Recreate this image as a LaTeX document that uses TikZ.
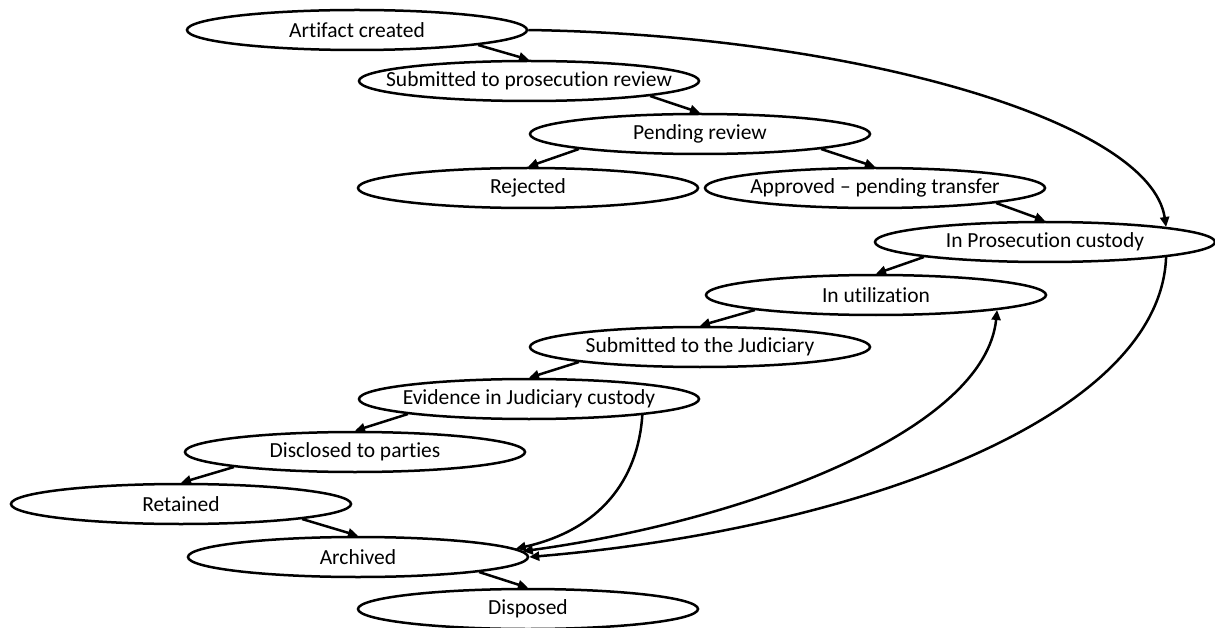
\documentclass[tikz,border=0pt]{standalone}
\usepackage{fontspec}
\setmainfont[Ligatures=CommonOff]{Carlito}
\usetikzlibrary{shapes.geometric,arrows.meta}
\begin{document}
\begin{tikzpicture}[x=1pt,y=-1pt,
  state/.style={ellipse, draw, line width=2.5pt, minimum width=340pt,
    minimum height=40pt, inner sep=0pt, font=\fontsize{21.5}{25}\selectfont,
    execute at begin node={\hbox to 0pt\bgroup\hss},
    execute at end node={\hss\egroup}},
  flow/.style={line width=2.5pt, -{Triangle[length=10pt,width=9pt]}},
  flowboth/.style={line width=2.5pt,
    {Triangle[length=10pt,width=9pt]}-{Triangle[length=10pt,width=9pt]}},
]
\useasboundingbox (0,0) rectangle (1215,628);

% lifecycle states
\node[state] (art)  at (357,30)  {Artifact created};
\node[state] (spr)  at (529,81)  {Submitted to prosecution review};
\node[state] (pend) at (700,134) {Pending review};
\node[state] (rej)  at (528,188) {Rejected};
\node[state] (appr) at (875,188) {Approved – pending transfer};
\node[state] (ipc)  at (1045,242) {In Prosecution custody};
\node[state] (util) at (876,295) {In utilization};
\node[state] (sjud) at (700,347) {Submitted to the Judiciary};
\node[state] (ejc)  at (529,399) {Evidence in Judiciary custody};
\node[state] (disc) at (355,452) {Disclosed to parties};
\node[state] (ret)  at (181,504) {Retained};
\node[state] (arch) at (358,557) {Archived};
\node[state] (disp) at (528,609) {Disposed};

% direct transitions
\draw[flow] (art.south east)  -- (spr.north);
\draw[flow] (spr.south east)  -- (pend.north);
\draw[flow] (pend.south west) -- (rej.north);
\draw[flow] (pend.south east) -- (appr.north);
\draw[flow] (appr.south east) -- (ipc.north);
\draw[flow] (ipc.south west)  -- (util.north);
\draw[flow] (util.south west) -- (sjud.north);
\draw[flow] (sjud.south west) -- (ejc.north);
\draw[flow] (ejc.south west)  -- (disc.north);
\draw[flow] (disc.south west) -- (ret.north);
\draw[flow] (ret.south east)  -- (arch.north);
\draw[flow] (arch.south east) -- (disp.north);

% long-range transitions
\draw[flow] (art.east) .. controls (850,35) and (1150,120) .. (ipc.north east);
\draw[flow] (ipc.south east) .. controls (1160,420) and (850,530) .. (arch.0);
\draw[flowboth] (arch.2) .. controls (750,520) and (985,430) .. (util.south east);
\draw[flow] (ejc.-8) .. controls (638,480) and (600,530) .. (arch.3);
\end{tikzpicture}
\end{document}
